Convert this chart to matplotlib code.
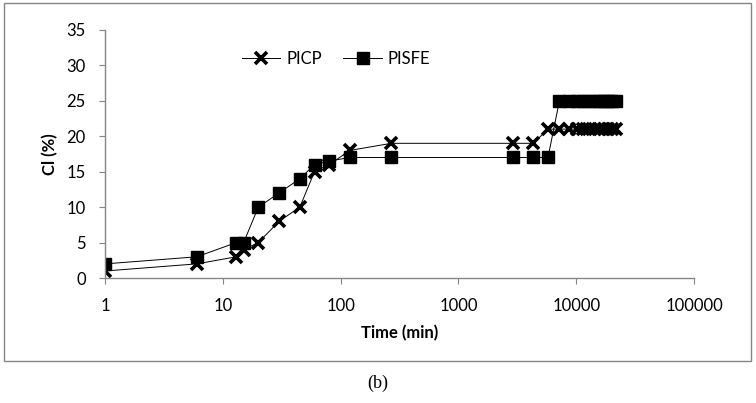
import matplotlib.pyplot as plt
from matplotlib.patches import Rectangle

plt.rcParams['font.family'] = ['Lato', 'DejaVu Sans']

# time (min) and CI (%) values
time_picp = [1, 6, 13, 15, 20, 30, 45, 60, 80, 120, 270, 2880, 4320, 5760,
             7200, 8640, 10080, 11520, 12960, 14400, 15840, 17280, 18720, 20160, 21600]
ci_picp = [1, 2, 3, 4, 5, 8, 10, 15, 16, 18, 19, 19, 19, 21,
           21, 21, 21, 21, 21, 21, 21, 21, 21, 21, 21]

time_pisfe = [1, 6, 13, 15, 20, 30, 45, 60, 80, 120, 270, 2880, 4320, 5760,
              7200, 8640, 10080, 11520, 12960, 14400, 15840, 17280, 18720, 20160, 21600]
ci_pisfe = [2, 3, 5, 5, 10, 12, 14, 16, 16.5, 17, 17, 17, 17, 17,
            25, 25, 25, 25, 25, 25, 25, 25, 25, 25, 25]

xticks = [1, 10, 100, 1000, 10000, 100000]
xtick_labels = ['1', '10', '100', '1000', '10000', '100000']
yticks = [0, 5, 10, 15, 20, 25, 30, 35]

fig = plt.figure(figsize=(7.56, 4.03), dpi=100)
ax = fig.add_axes([0.139, 0.31, 0.779, 0.616])

ax.plot(time_picp, ci_picp, color='black', lw=0.7, marker='x', ms=8, mew=2.6, label='PICP')
ax.plot(time_pisfe, ci_pisfe, color='black', lw=0.7, marker='s', ms=8, label='PISFE')

ax.set_xscale('log')
ax.set_xlim(1, 100000)
ax.set_ylim(0, 35)
ax.set_xticks(xticks)
ax.set_xticklabels(xtick_labels)
ax.minorticks_off()
ax.set_yticks(yticks)

for s in ['top', 'right']:
    ax.spines[s].set_visible(False)
for s in ['left', 'bottom']:
    ax.spines[s].set_color('#868686')
    ax.spines[s].set_linewidth(1)
ax.tick_params(axis='both', colors='#868686', labelcolor='black', labelsize=12, length=4)
ax.tick_params(axis='x', pad=10)
ax.tick_params(axis='y', pad=10)

ax.set_xlabel('Time (min)', fontsize=12, fontweight='bold', labelpad=8)
ax.set_ylabel('Cl (%)', fontsize=12, fontweight='bold', labelpad=6)

ax.legend(loc='upper left', bbox_to_anchor=(0.207, 0.975), ncol=2, frameon=False,
          fontsize=12, handlelength=2.3, handletextpad=0.35, columnspacing=1.3)

fig.patches.append(Rectangle((0.005, 0.105), 0.989, 0.887, transform=fig.transFigure,
                             fill=False, edgecolor='#868686', lw=1))
fig.text(0.5, 0.05, '(b)', ha='center', va='center', fontsize=13, family='Liberation Serif')

fig.savefig('out.png', dpi=100)
